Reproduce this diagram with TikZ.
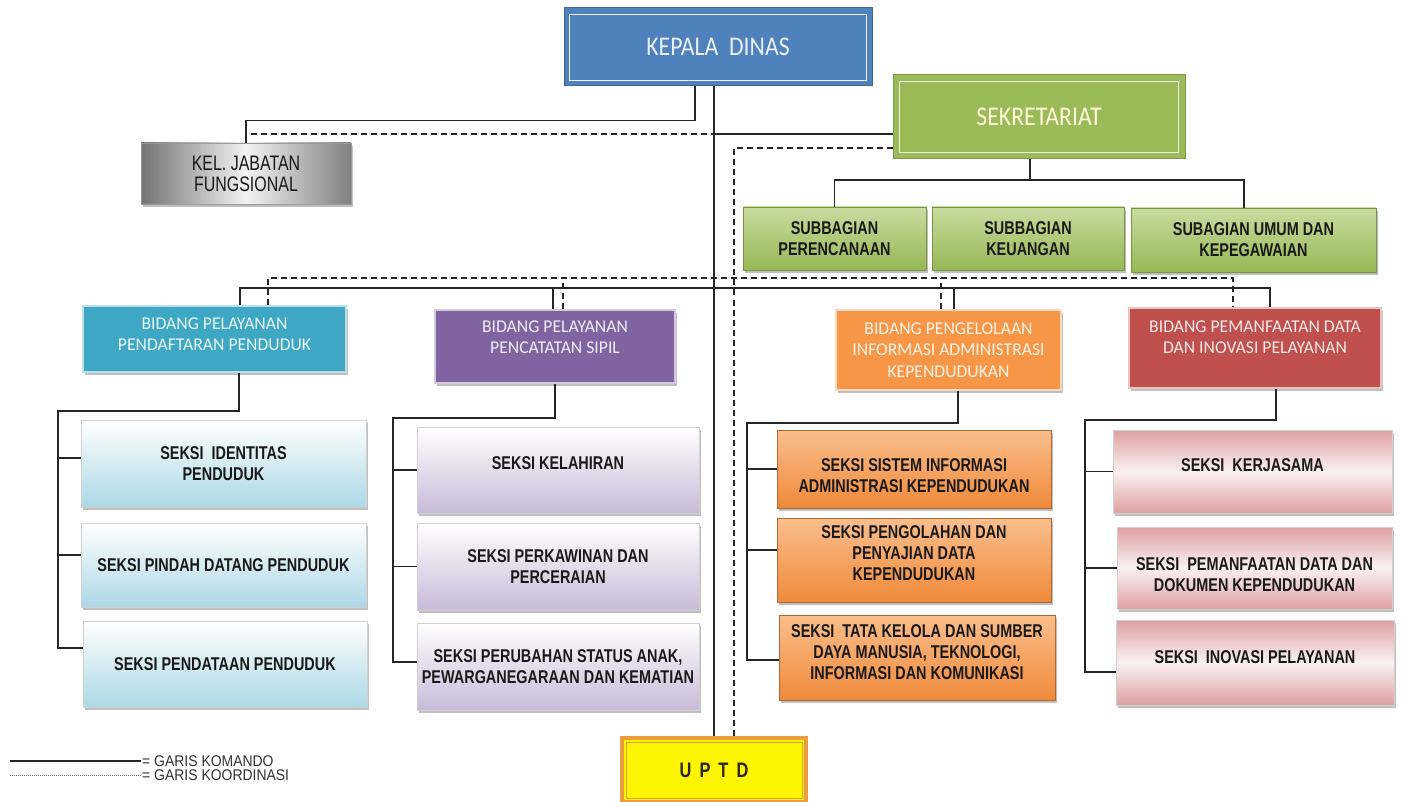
\documentclass[tikz,border=0pt]{standalone}
\usepackage{fontspec}
\setmainfont{Liberation Sans}
\newfontfamily\narrowfont[FakeStretch=0.78]{Liberation Sans}
\newfontfamily\thinfont[FakeStretch=0.76]{Liberation Sans}
\newfontfamily\legendfont[FakeStretch=0.9]{Liberation Sans}
\newfontfamily\calfont[FakeStretch=0.98]{Carlito}
\newfontfamily\headfont[FakeStretch=0.88]{Carlito}
\definecolor{kdblue}{RGB}{79,129,189}
\definecolor{sekgreen}{RGB}{155,187,89}
\definecolor{sbtop}{RGB}{200,220,160}
\definecolor{sbbottom}{RGB}{150,184,84}
\definecolor{pendteal}{RGB}{62,167,196}
\definecolor{pendlight}{RGB}{172,216,230}
\definecolor{catpurple}{RGB}{128,100,162}
\definecolor{catlight}{RGB}{200,186,216}
\definecolor{kelorange}{RGB}{247,150,70}
\definecolor{keltop}{RGB}{250,190,140}
\definecolor{kelbottom}{RGB}{240,138,58}
\definecolor{manred}{RGB}{192,80,77}
\definecolor{manpink}{RGB}{222,160,162}
\definecolor{uptdorange}{RGB}{232,156,60}
\definecolor{uptdyellow}{RGB}{255,245,0}
\usetikzlibrary{shadows,calc}

\tikzset{
  komando/.style={draw=black!85, line width=1.3pt},
  koord/.style={draw=black!85, line width=1.3pt, dash pattern=on 6pt off 4pt},
  boxshadow/.style={drop shadow={shadow xshift=2pt, shadow yshift=-3pt, fill=black!45, opacity=0.55}},
  seksibox/.style={rectangle, draw=black!18, line width=0.6pt, align=center, text=black!90, font=\narrowfont\bfseries\fontsize{18.5}{21}\selectfont, boxshadow},
  seksipend/.style={seksibox, top color=white, bottom color=pendlight},
  seksicat/.style={seksibox, top color=white, bottom color=catlight},
  seksikel/.style={seksibox, draw=kelorange!70!black, top color=keltop, bottom color=kelbottom},
  seksiman/.style={seksibox, top color=manpink, bottom color=manpink, middle color=white!85!manpink},
  subbox/.style={seksibox, draw=sbbottom!80!black, top color=sbtop, bottom color=sbbottom},
  bidangbox/.style={rectangle, fill=#1, draw=white!65!#1, line width=1.2pt, align=center, text=white!88!#1, font=\calfont\fontsize{18}{21.5}\selectfont, boxshadow},
  topbox/.style={rectangle, fill=#1, draw=#1!80!black, line width=1pt, align=center, text=white!88!#1, font=\headfont\fontsize{27}{30}\selectfont}
}

\begin{document}
\begin{tikzpicture}[x=1pt, y=-1pt]
  \fill[white] (0,0) rectangle (1402,802);
  \useasboundingbox (0,0) rectangle (1402,802);

  \node[topbox=kdblue, minimum width=308pt, minimum height=78pt] (kd) at (718,47) {KEPALA\ \ DINAS};
  \draw[white!90!kdblue, line width=1.6pt] ([shift={(6,7)}]kd.north west) rectangle ([shift={(-6,-6)}]kd.south east);
  \node[topbox=sekgreen, minimum width=292pt, minimum height=84pt, text=white!85!yellow] (sek) at (1039,117) {SEKRETARIAT};
  \draw[white!80!sekgreen, line width=1.6pt] ([shift={(7,7)}]sek.north west) rectangle ([shift={(-7,-7)}]sek.south east);
  \node[rectangle, draw=black!40, left color=black!55, right color=black!50, middle color=black!5, minimum width=210pt, minimum height=61pt, align=center, font=\thinfont\fontsize{21}{21}\selectfont, text=black!90, boxshadow] (kjf) at (246,173.5) {KEL. JABATAN\\FUNGSIONAL};

  \node[subbox, minimum width=183pt, minimum height=63pt] (sb1) at (834.5,238.5) {SUBBAGIAN\\PERENCANAAN};
  \node[subbox, minimum width=192pt, minimum height=63pt] (sb2) at (1028,238.5) {SUBBAGIAN\\KEUANGAN};
  \node[subbox, minimum width=245pt, minimum height=64pt] (sb3) at (1253.5,240) {SUBAGIAN UMUM DAN\\KEPEGAWAIAN};

  \node[bidangbox=pendteal, minimum width=263pt, minimum height=66pt, text depth=10pt] (pend) at (214.5,339) {BIDANG PELAYANAN\\PENDAFTARAN PENDUDUK};
  \node[bidangbox=catpurple, minimum width=240pt, minimum height=73pt, text depth=19pt] (cat) at (555,346.5) {BIDANG PELAYANAN\\PENCATATAN SIPIL};
  \node[bidangbox=kelorange, minimum width=225pt, minimum height=80pt] (kel) at (948.5,350) {BIDANG PENGELOLAAN\\INFORMASI ADMINISTRASI\\KEPENDUDUKAN};
  \node[bidangbox=manred, minimum width=252pt, minimum height=80pt, text depth=22pt] (man) at (1255,348) {BIDANG PEMANFAATAN DATA\\DAN INOVASI PELAYANAN};

  \node[seksipend, minimum width=285pt, minimum height=87pt] (s11) at (223.5,463.5) {SEKSI\ \ IDENTITAS\\PENDUDUK};
  \node[seksipend, minimum width=285pt, minimum height=84pt] (s12) at (223.5,565) {SEKSI PINDAH DATANG PENDUDUK};
  \node[seksipend, minimum width=284pt, minimum height=86pt] (s13) at (225,664) {SEKSI PENDATAAN PENDUDUK};

  \node[seksicat, minimum width=282pt, minimum height=86pt, text depth=14pt] (s21) at (558,470) {SEKSI KELAHIRAN};
  \node[seksicat, minimum width=282pt, minimum height=87pt] (s22) at (558,566.5) {SEKSI PERKAWINAN DAN\\PERCERAIAN};
  \node[seksicat, minimum width=282pt, minimum height=87pt] (s23) at (558,666.5) {SEKSI PERUBAHAN STATUS ANAK,\\PEWARGANEGARAAN DAN KEMATIAN};

  \node[seksikel, minimum width=274pt, minimum height=78pt, text height=48pt] (s31) at (914,469) {SEKSI SISTEM INFORMASI\\ADMINISTRASI KEPENDUDUKAN};
  \node[seksikel, minimum width=274pt, minimum height=84pt, text depth=14pt] (s32) at (914,560) {SEKSI PENGOLAHAN DAN\\PENYAJIAN DATA\\KEPENDUDUKAN};
  \node[seksikel, minimum width=276pt, minimum height=85pt, text depth=11pt] (s33) at (917,657.5) {SEKSI\ \ TATA KELOLA DAN SUMBER\\DAYA MANUSIA, TEKNOLOGI,\\INFORMASI DAN KOMUNIKASI};

  \node[seksiman, minimum width=279pt, minimum height=83pt, text depth=13pt] (s41) at (1252.5,471.5) {SEKSI\ \ KERJASAMA};
  \node[seksiman, minimum width=275pt, minimum height=82pt, text height=48pt] (s42) at (1254.5,568) {SEKSI\ \ PEMANFAATAN DATA DAN\\DOKUMEN KEPENDUDUKAN};
  \node[seksiman, minimum width=278pt, minimum height=85pt, text depth=11pt] (s43) at (1255,662.5) {SEKSI\ \ INOVASI PELAYANAN};

  \node[rectangle, fill=uptdyellow, draw=uptdorange, line width=4pt, minimum width=184pt, minimum height=64pt, font=\narrowfont\bfseries\fontsize{21}{22}\selectfont, text=black!85] (up) at (714,770) {U\,\ P\,\ T\,\ D};
  \draw[uptdorange, line width=0.8pt] ([shift={(6,6)}]up.north west) rectangle ([shift={(-6,-6)}]up.south east);

  \coordinate (jk) at (714,134);
  \coordinate (jf) at (251,134);
  \coordinate (sbus) at (1030,180);
  \coordinate (bb) at (714,288);
  \coordinate (kb) at (734,278);
  \coordinate (pt) at (58,411);
  \coordinate (ct) at (393,418);
  \coordinate (kt) at (747,423);
  \coordinate (mt) at (1085,420);

  \draw[komando] (kd.south -| up.north) -- (up.north);
  \draw[komando] ([xshift=-23pt]kd.south) -- ++(0,34) -| (kjf.north);
  \draw[koord] (jf) -- (jk);
  \draw[komando] (jk) -- (jk -| sek.west);
  \draw[koord] ([yshift=-31pt]sek.west) -| ([xshift=20pt]up.north);

  \draw[komando] ([xshift=-9pt]sek.south) -- (sbus);
  \draw[komando] (sb1.north) |- (sbus) -| ([xshift=-9.5pt]sb3.north);

  \draw[komando] ([xshift=25.5pt]pend.north) |- (bb) -| ([xshift=15pt]man.north);
  \draw[komando] ([xshift=-2pt]cat.north) -- ([xshift=-2pt]cat.north |- bb);
  \draw[komando] ([xshift=5.5pt]kel.north) -- ([xshift=5.5pt]kel.north |- bb);
  \draw[koord] ([xshift=53.5pt]pend.north) |- (kb) -| ([xshift=-22pt]man.north);
  \draw[koord] ([xshift=8pt]cat.north) -- ([xshift=8pt]cat.north |- kb);
  \draw[koord] ([xshift=-7.5pt]kel.north) -- ([xshift=-7.5pt]kel.north |- kb);

  \draw[komando] ([xshift=24.5pt]pend.south) |- (pt) |- ([yshift=16pt]s13.west);
  \draw[komando] ([yshift=5.5pt]s11.west) -- ++(-23,0);
  \draw[komando] ([yshift=10pt]s12.west) -- ++(-23,0);

  \draw[komando] (cat.south) |- (ct) |- ([yshift=4.5pt]s23.west);
  \draw[komando] (s21.west) -- ++(-24,0);
  \draw[komando] (s22.west) -- ++(-24,0);

  \draw[komando] ([xshift=9.5pt]kel.south) |- (kt) |- ([yshift=-2.5pt]s33.west);
  \draw[komando] (s31.west) -- ++(-30,0);
  \draw[komando] ([yshift=10pt]s32.west) -- ++(-30,0);

  \draw[komando] ([xshift=21pt]man.south) |- (mt) |- ([yshift=-9.5pt]s43.west);
  \draw[komando] (s41.west) -- ++(-28,0);
  \draw[komando] (s42.west) -- ++(-32,0);

  \node[anchor=west, inner sep=1pt, font=\legendfont\fontsize{15.5}{16}\selectfont, text=black!80] (lk) at (141,761) {= GARIS KOMANDO};
  \node[anchor=west, inner sep=1pt, font=\legendfont\fontsize{15.5}{16}\selectfont, text=black!80] (lo) at (141,775) {= GARIS KOORDINASI};
  \draw[black!85, line width=1.1pt] (lk.west) -- ++(-131,0);
  \draw[black!60, line width=0.8pt, dash pattern=on 1pt off 1pt] (lo.west) -- ++(-131,0);
\end{tikzpicture}
\end{document}
